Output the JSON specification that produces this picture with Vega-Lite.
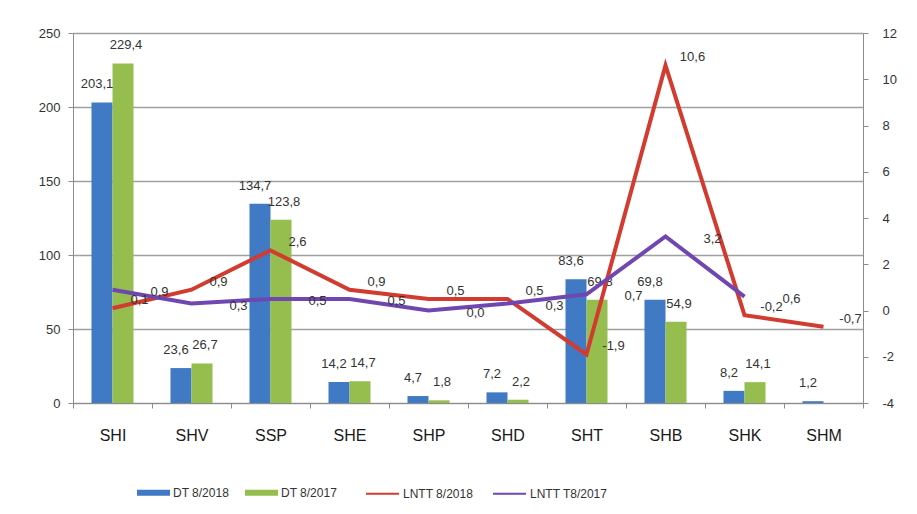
{
  "$schema": "https://vega.github.io/schema/vega-lite/v6.json",
  "width": 790,
  "height": 370,
  "autosize": {"type": "none"},
  "padding": {"left": 73, "top": 33, "right": 54, "bottom": 111},
  "background": "white",
  "datasets": {
    "bars": [
      {"cat": "SHI", "series": "DT 8/2018", "value": 203.1},
      {"cat": "SHI", "series": "DT 8/2017", "value": 229.4},
      {"cat": "SHV", "series": "DT 8/2018", "value": 23.6},
      {"cat": "SHV", "series": "DT 8/2017", "value": 26.7},
      {"cat": "SSP", "series": "DT 8/2018", "value": 134.7},
      {"cat": "SSP", "series": "DT 8/2017", "value": 123.8},
      {"cat": "SHE", "series": "DT 8/2018", "value": 14.2},
      {"cat": "SHE", "series": "DT 8/2017", "value": 14.7},
      {"cat": "SHP", "series": "DT 8/2018", "value": 4.7},
      {"cat": "SHP", "series": "DT 8/2017", "value": 1.8},
      {"cat": "SHD", "series": "DT 8/2018", "value": 7.2},
      {"cat": "SHD", "series": "DT 8/2017", "value": 2.2},
      {"cat": "SHT", "series": "DT 8/2018", "value": 83.6},
      {"cat": "SHT", "series": "DT 8/2017", "value": 69.8},
      {"cat": "SHB", "series": "DT 8/2018", "value": 69.8},
      {"cat": "SHB", "series": "DT 8/2017", "value": 54.9},
      {"cat": "SHK", "series": "DT 8/2018", "value": 8.2},
      {"cat": "SHK", "series": "DT 8/2017", "value": 14.1},
      {"cat": "SHM", "series": "DT 8/2018", "value": 1.2}
    ],
    "lines": [
      {"cat": "SHI", "series": "LNTT 8/2018", "value": 0.1},
      {"cat": "SHV", "series": "LNTT 8/2018", "value": 0.9},
      {"cat": "SSP", "series": "LNTT 8/2018", "value": 2.6},
      {"cat": "SHE", "series": "LNTT 8/2018", "value": 0.9},
      {"cat": "SHP", "series": "LNTT 8/2018", "value": 0.5},
      {"cat": "SHD", "series": "LNTT 8/2018", "value": 0.5},
      {"cat": "SHT", "series": "LNTT 8/2018", "value": -1.9},
      {"cat": "SHB", "series": "LNTT 8/2018", "value": 10.6},
      {"cat": "SHK", "series": "LNTT 8/2018", "value": -0.2},
      {"cat": "SHM", "series": "LNTT 8/2018", "value": -0.7},
      {"cat": "SHI", "series": "LNTT T8/2017", "value": 0.9},
      {"cat": "SHV", "series": "LNTT T8/2017", "value": 0.3},
      {"cat": "SSP", "series": "LNTT T8/2017", "value": 0.5},
      {"cat": "SHE", "series": "LNTT T8/2017", "value": 0.5},
      {"cat": "SHP", "series": "LNTT T8/2017", "value": 0.0},
      {"cat": "SHD", "series": "LNTT T8/2017", "value": 0.3},
      {"cat": "SHT", "series": "LNTT T8/2017", "value": 0.7},
      {"cat": "SHB", "series": "LNTT T8/2017", "value": 3.2},
      {"cat": "SHK", "series": "LNTT T8/2017", "value": 0.6}
    ]
  },
  "layer": [
    {
      "data": {"name": "bars"},
      "encoding": {
        "x": {
          "field": "cat", "type": "nominal", "sort": null,
          "scale": {"domain": ["SHI","SHV","SSP","SHE","SHP","SHD","SHT","SHB","SHK","SHM"], "paddingInner": 0, "paddingOuter": 0},
          "axis": {"title": null, "labelAngle": 0, "tickBand": "extent", "domainColor": "#8c8c8c", "tickColor": "#8c8c8c", "tickSize": 5, "labelFontSize": 16, "labelPadding": 19, "labelColor": "#1a1a1a", "grid": false}
        },
        "xOffset": {
          "field": "series", "type": "nominal", "sort": null,
          "scale": {"domain": ["DT 8/2018", "DT 8/2017"], "paddingInner": 0, "paddingOuter": 0.88}
        },
        "y": {
          "field": "value", "type": "quantitative",
          "scale": {"domain": [0, 250], "nice": false},
          "axis": {"title": null, "values": [0, 50, 100, 150, 200, 250], "grid": true, "gridColor": "#a0a0a0", "gridWidth": 1.5, "domain": true, "domainColor": "#8c8c8c", "tickColor": "#8c8c8c", "tickSize": 5, "labelPadding": 8, "labelFontSize": 13, "labelColor": "#333333"}
        }
      },
      "layer": [
        {
          "mark": {"type": "bar"},
          "encoding": {
            "color": {
              "field": "series", "type": "nominal", "sort": null,
              "scale": {"domain": ["DT 8/2018", "DT 8/2017"], "range": ["#4079c4", "#95be4f"]},
              "legend": {"title": null, "orient": "none", "legendX": 64, "legendY": 443, "direction": "horizontal", "columns": 2, "symbolType": "M-1,-0.18H1V0.18H-1Z", "symbolSize": 1089, "symbolStrokeWidth": 0, "columnPadding": 15, "labelFontSize": 12, "labelColor": "#333333", "labelOffset": 3}
            }
          }
        },
        {
          "transform": [{"filter": "datum.series === 'DT 8/2018'"}],
          "mark": {"type": "text", "baseline": "middle", "dy": -18, "dx": -5, "fontSize": 13, "color": "#333333"},
          "encoding": {
            "text": {"field": "value", "type": "quantitative", "format": ".1f"}
          }
        },
        {
          "transform": [{"filter": "datum.series === 'DT 8/2017'"}],
          "mark": {"type": "text", "baseline": "middle", "dy": -18, "dx": 3, "fontSize": 13, "color": "#333333"},
          "encoding": {
            "text": {"field": "value", "type": "quantitative", "format": ".1f"}
          }
        }
      ]
    },
    {
      "data": {"name": "lines"},
      "encoding": {
        "x": {"field": "cat", "type": "nominal", "sort": null},
        "y": {
          "field": "value", "type": "quantitative",
          "scale": {"domain": [-4, 12], "nice": false},
          "axis": {"title": null, "orient": "right", "values": [-4, -2, 0, 2, 4, 6, 8, 10, 12], "grid": false, "domain": true, "domainColor": "#8c8c8c", "tickColor": "#8c8c8c", "tickSize": 5, "labelPadding": 14, "labelFontSize": 13, "labelColor": "#333333"}
        }
      },
      "layer": [
        {
          "mark": {"type": "line", "strokeWidth": 4},
          "encoding": {
            "color": {
              "field": "series", "type": "nominal", "sort": null,
              "scale": {"domain": ["LNTT 8/2018", "LNTT T8/2017"], "range": ["#d23b2f", "#7047b0"]},
              "legend": {"title": null, "orient": "none", "legendX": 292, "legendY": 443, "direction": "horizontal", "columns": 2, "symbolType": "stroke", "symbolSize": 1089, "symbolStrokeWidth": 2, "columnPadding": 15, "labelFontSize": 12, "labelColor": "#333333", "labelOffset": 3}
            }
          }
        },
        {
          "transform": [{"filter": "datum.series === 'LNTT 8/2018'"}],
          "mark": {"type": "text", "align": "center", "baseline": "middle", "dx": 27, "dy": -8, "fontSize": 13, "color": "#333333"},
          "encoding": {
            "text": {"field": "value", "type": "quantitative", "format": ".1f"}
          }
        },
        {
          "transform": [{"filter": "datum.series === 'LNTT T8/2017'"}],
          "mark": {"type": "text", "align": "center", "baseline": "middle", "dx": 47, "dy": 2, "fontSize": 13, "color": "#333333"},
          "encoding": {
            "text": {"field": "value", "type": "quantitative", "format": ".1f"}
          }
        }
      ]
    }
  ],
  "resolve": {"scale": {"y": "independent", "color": "independent"}},
  "config": {
    "font": "Liberation Sans",
    "view": {"stroke": null},
    "locale": {"number": {"decimal": ",", "thousands": ".", "grouping": [3], "currency": ["", ""], "minus": "-"}}
  }
}
